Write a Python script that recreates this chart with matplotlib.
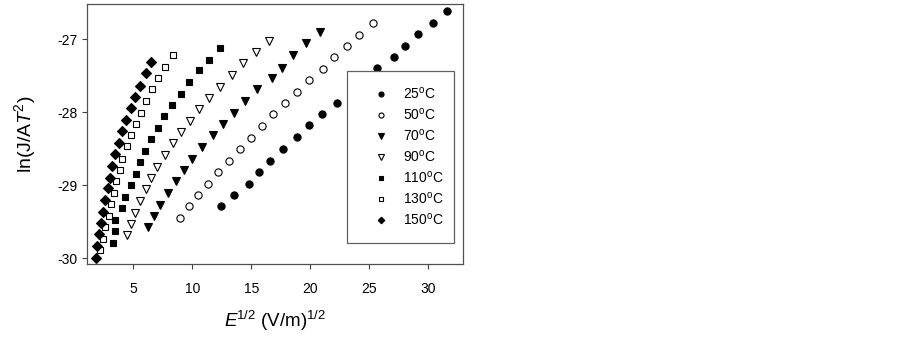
import matplotlib
matplotlib.use("Agg")
from matplotlib import pyplot as plt

# Data: E^1/2 vs ln(J/AT^2)
x_25 = [12.43, 13.56, 14.78, 15.68, 16.61, 17.71, 18.87, 19.92, 21.02, 22.29,
        23.41, 24.51, 25.63, 27.12, 27.97, 29.13, 30.34, 31.53]
y_25 = [-29.29, -29.14, -28.98, -28.82, -28.67, -28.51, -28.34, -28.18, -28.03, -27.88,
        -27.72, -27.56, -27.40, -27.25, -27.09, -26.93, -26.78, -26.62]

x_50 = [8.96, 9.72, 10.51, 11.33, 12.15, 13.08, 14.07, 14.93, 15.91, 16.84,
        17.86, 18.90, 19.92, 21.10, 22.01, 23.08, 24.15, 25.29]
y_50 = [-29.45, -29.29, -29.14, -28.98, -28.82, -28.67, -28.51, -28.35, -28.19, -28.03,
        -27.88, -27.72, -27.56, -27.41, -27.25, -27.09, -26.94, -26.78]

x_70 = [6.27, 6.75, 7.26, 7.92, 8.59, 9.30, 10.00, 10.85, 11.71, 12.63,
        13.56, 14.49, 15.48, 16.71, 17.58, 18.56, 19.64, 20.82]
y_70 = [-29.58, -29.42, -29.27, -29.11, -28.95, -28.79, -28.64, -28.48, -28.32, -28.17,
        -28.01, -27.85, -27.69, -27.54, -27.39, -27.22, -27.06, -26.90]

x_90 = [4.44, 4.81, 5.14, 5.59, 6.05, 6.53, 7.03, 7.71, 8.36, 9.02,
        9.81, 10.57, 11.44, 12.37, 13.34, 14.32, 15.40, 16.47]
y_90 = [-29.69, -29.53, -29.38, -29.22, -29.06, -28.90, -28.75, -28.59, -28.43, -28.28,
        -28.12, -27.96, -27.81, -27.65, -27.49, -27.33, -27.18, -27.02]

x_110 = [3.28, 3.47, 3.42, 4.07, 4.32, 4.83, 5.20, 5.59, 5.99, 6.50,
         7.09, 7.64, 8.28, 9.03, 9.70, 10.54, 11.42, 12.33]
y_110 = [-29.79, -29.63, -29.48, -29.32, -29.16, -29.00, -28.85, -28.69, -28.53, -28.37,
         -28.22, -28.06, -27.91, -27.75, -27.59, -27.43, -27.28, -27.12]

x_130 = [2.20, 2.43, 2.58, 2.97, 3.14, 3.36, 3.53, 3.90, 4.04, 4.47,
         4.81, 5.20, 5.63, 6.09, 6.58, 7.07, 7.71, 8.36]
y_130 = [-29.89, -29.74, -29.57, -29.42, -29.26, -29.11, -28.95, -28.79, -28.64, -28.47,
         -28.32, -28.17, -28.01, -27.85, -27.69, -27.54, -27.38, -27.22]

x_150 = [1.86, 1.95, 2.12, 2.26, 2.41, 2.63, 2.86, 3.03, 3.22, 3.45,
         3.79, 4.04, 4.40, 4.79, 5.16, 5.57, 6.05, 6.48]
y_150 = [-30.00, -29.84, -29.67, -29.52, -29.37, -29.20, -29.04, -28.90, -28.74, -28.57,
         -28.42, -28.26, -28.11, -27.95, -27.79, -27.64, -27.47, -27.32]

labels = ["25", "50", "70", "90", "110", "130", "150"]
xs = [x_25, x_50, x_70, x_90, x_110, x_130, x_150]
ys = [y_25, y_50, y_70, y_90, y_110, y_130, y_150]

styles = [("o", "black", 5.2), ("o", "white", 5.2), ("v", "black", 5.6), ("v", "white", 5.6),
          ("s", "black", 5.0), ("s", "white", 5.0), ("D", "black", 4.8)]

plt.rcParams["font.family"] = ["Liberation Sans", "DejaVu Sans"]
plt.rcParams["mathtext.fontset"] = "custom"
plt.rcParams["mathtext.rm"] = "Liberation Sans"
plt.rcParams["mathtext.it"] = "Liberation Sans:italic"

fig = plt.figure(figsize=(9.02, 3.39), dpi=100)
ax = fig.add_axes([0.0965, 0.2204, 0.4165, 0.7676])

for x, y, lab, (m, fc, ms) in zip(xs, ys, labels, styles):
    ax.plot(x, y, linestyle="none", marker=m, markersize=ms, markerfacecolor=fc,
            markeredgecolor="black", markeredgewidth=0.8, label=lab + r"$^{\rm o}$C")

ax.set_xlim(1.08, 32.9)
ax.set_ylim(-30.086, -26.52)
ax.set_xticks([5, 10, 15, 20, 25, 30])
ax.set_yticks([-30, -29, -28, -27])
ax.set_yticklabels(["-30", "-29", "-28", "-27"])
ax.tick_params(direction="out", length=3.5, width=0.8, colors="#404040",
               labelcolor="black", labelsize=10, top=False, right=False)
ax.tick_params(axis="x", pad=9.5)
for sp in ax.spines.values():
    sp.set_color("#505050")
    sp.set_linewidth(0.9)

ax.set_xlabel(r"$\it{E}$$^{1/2}$ (V/m)$^{1/2}$", fontsize=13.5, labelpad=9)
ax.set_ylabel(r"ln(J/A$\it{T}$$^2$)", fontsize=14, labelpad=14)

leg = ax.legend(loc="upper left", bbox_to_anchor=(0.691, 0.744, 0.287, 0.0),
                mode="expand", borderaxespad=0, fontsize=10, markerscale=0.7,
                handlelength=2.7, handletextpad=0.25, borderpad=1.1,
                labelspacing=0.36, fancybox=False, framealpha=1)
leg.get_frame().set_edgecolor("#606060")
leg.get_frame().set_linewidth(0.9)

fig.savefig("out.png", dpi=100)
